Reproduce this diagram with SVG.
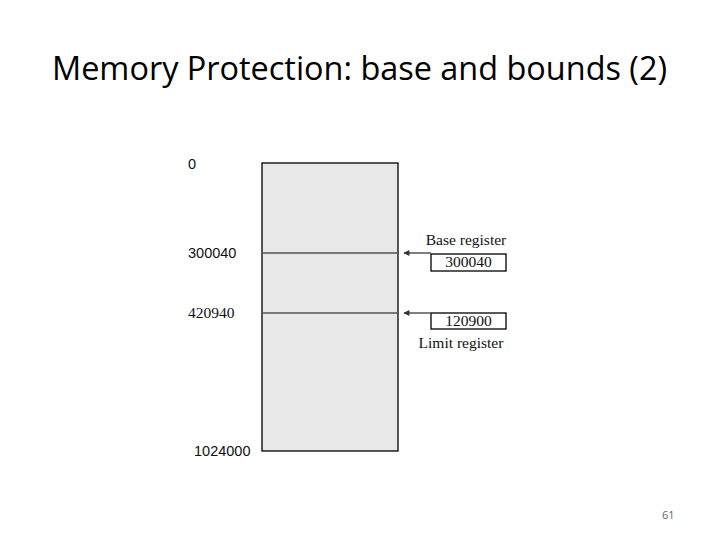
<svg xmlns="http://www.w3.org/2000/svg" width="720" height="540" viewBox="0 0 720 540">
<style>
.title{font-family:"Open Sans","Liberation Sans",sans-serif;font-size:32px;fill:#000}
.sans{font-family:"Liberation Sans",Arial,sans-serif;font-size:14.5px;fill:#111}
.serif{font-family:"Liberation Serif","Times New Roman",serif;font-size:15.5px;fill:#111}
.reg{fill:#fff;stroke:#000;stroke-width:1.3}
.conn{stroke:#555;stroke-width:1.5;fill:none}
</style>
<defs>
<marker id="ah" viewBox="0 0 10 10" refX="9" refY="5" markerWidth="6" markerHeight="4" orient="auto">
<path d="M0,0 L10,5 L0,10 z" fill="#333"/>
</marker>
</defs>
<rect width="720" height="540" fill="#fff"/>
<text class="title" x="52" y="80" textLength="615" lengthAdjust="spacingAndGlyphs">Memory Protection: base and bounds (2)</text>
<g id="memory">
<rect x="262" y="163" width="136" height="288" fill="#e8e8e8" stroke="#000" stroke-width="1.3"/>
</g>
<g id="labels">
<text class="sans" x="188" y="169">0</text>
<text class="sans" x="188" y="258">300040</text>
<text class="serif" x="188" y="318">420940</text>
<text class="sans" x="194" y="456">1024000</text>
</g>
<g id="base-register">
<text class="serif" x="466" y="245" text-anchor="middle">Base register</text>
<rect class="reg" x="431" y="254" width="75" height="17"/>
<text class="serif" x="468.5" y="267" text-anchor="middle">300040</text>
</g>
<g id="limit-register">
<rect class="reg" x="431" y="313" width="75" height="16"/>
<text class="serif" x="468.5" y="326" text-anchor="middle">120900</text>
<text class="serif" x="461" y="348" text-anchor="middle">Limit register</text>
</g>
<g id="connectors">
<line class="conn" x1="262" y1="253" x2="398" y2="253"/>
<line class="conn" x1="262" y1="313" x2="398" y2="313"/>
<line class="conn" x1="431" y1="253" x2="404" y2="253" marker-end="url(#ah)"/>
<line class="conn" x1="431" y1="313" x2="404" y2="313" marker-end="url(#ah)"/>
</g>
<text x="662" y="519" font-family="'Open Sans','Liberation Sans',sans-serif" font-size="11" fill="#666">61</text>
</svg>
